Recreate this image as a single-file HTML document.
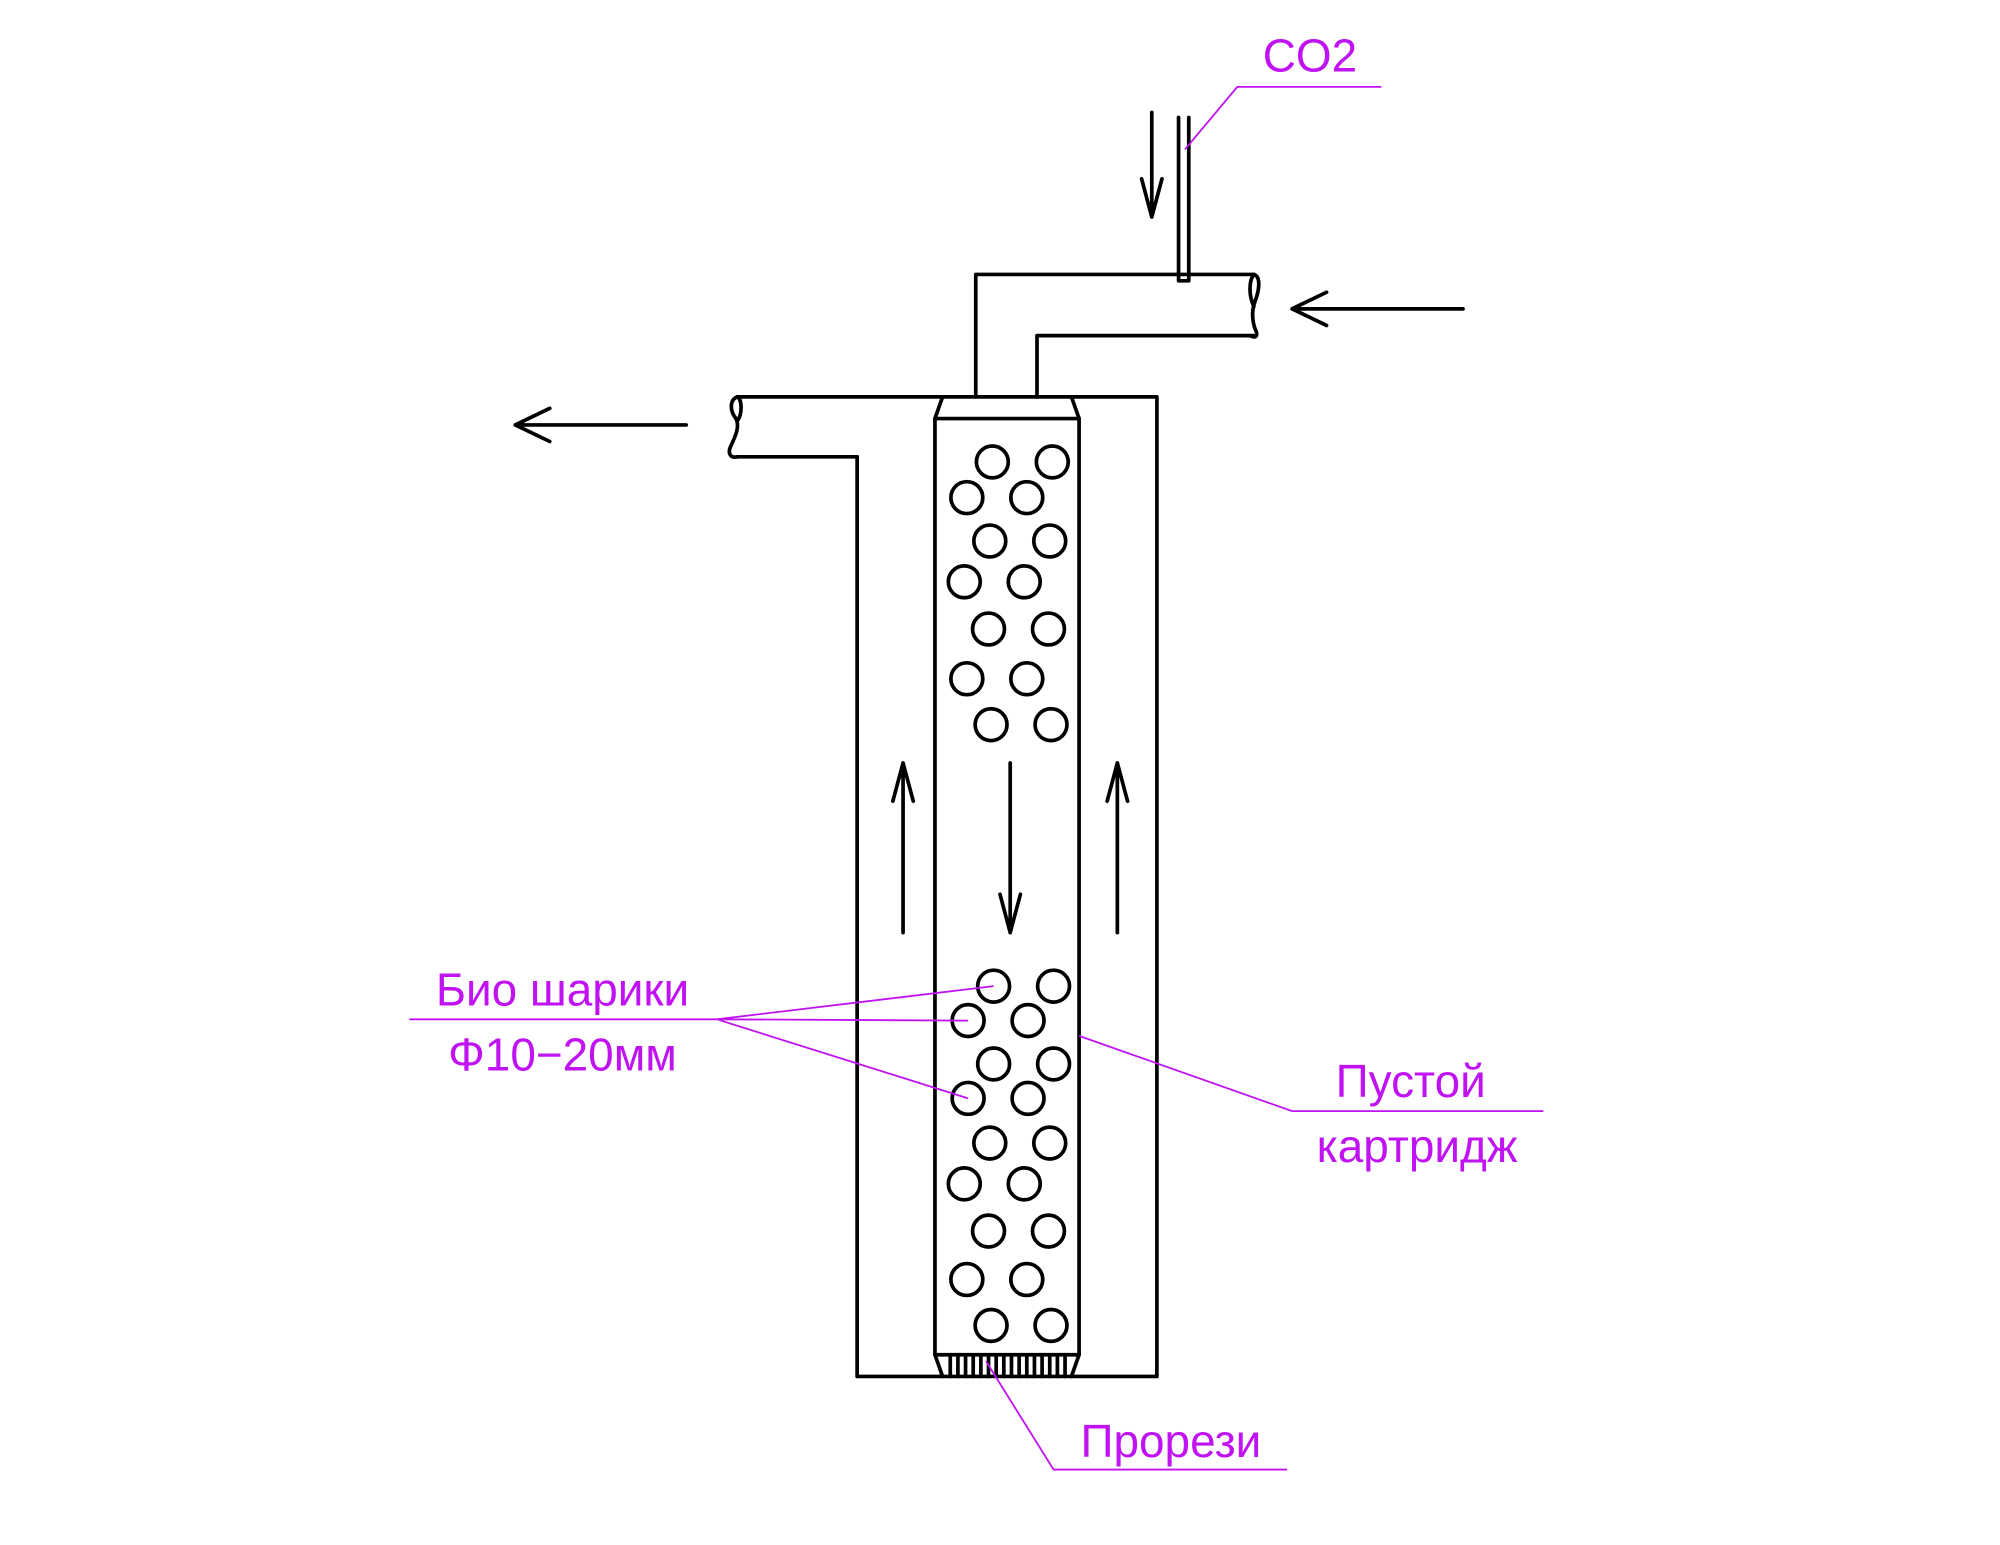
<!DOCTYPE html>
<html><head><meta charset="utf-8"><style>
html,body{margin:0;padding:0;background:#fff;}
svg{display:block;}
text{font-family:"Liberation Sans",sans-serif;fill:#c012f2;}
</style></head><body>
<svg width="2000" height="1545" viewBox="0 0 1568 1211" xmlns="http://www.w3.org/2000/svg">
<g fill="none" stroke="#000" stroke-width="2.9" stroke-linejoin="round" stroke-linecap="round">
<path d="M672,358 V1079 H907 V311 H578"/>
<path d="M578,358 H672"/>
<path d="M578,311 C572,313 572,322 577,328 C581,336 574,346 572,352 C571,357 574,359 578,358"/>
<path d="M578,311 C582,313 582,325 578,330"/>
<path d="M765,311 V215 H983"/>
<path d="M813,311 V263 H983"/>
<path d="M983,215 C989,217 987,228 984,236 C980,246 983,256 985,260 C986,264 984,265 980,263"/>
<path d="M983,215 C979,220 979,232 983,240"/>
<path d="M924,92 V220 H932 V92"/>
<path d="M903,88 V170 M895,140 L903,170 L911,140"/>
<path d="M1147,242 H1013 M1040,229 L1013,242 L1040,255"/>
<path d="M538,333 H404 M431,320 L404,333 L431,346"/>
<path d="M708,731 V598 M700,628 L708,598 L716,628"/>
<path d="M876,731 V598 M868,628 L876,598 L884,628"/>
<path d="M792,598 V731 M784,701 L792,731 L800,701"/>
<path d="M739,311 L733,328 V1062 L739,1079 M840,311 L846,328 V1062 L840,1079"/>
<path d="M733,328 H846 M733,1062 H846"/>
<path d="M745,1064V1079 M751,1064V1079 M757,1064V1079 M763,1064V1079 M769,1064V1079 M775,1064V1079 M781,1064V1079 M787,1064V1079 M793,1064V1079 M799,1064V1079 M805,1064V1079 M811,1064V1079 M817,1064V1079 M823,1064V1079 M829,1064V1079 M835,1064V1079"/>
<g>
<circle cx="778" cy="362" r="12.5"/><circle cx="825" cy="362" r="12.5"/>
<circle cx="758" cy="390" r="12.5"/><circle cx="805" cy="390" r="12.5"/>
<circle cx="776" cy="424" r="12.5"/><circle cx="823" cy="424" r="12.5"/>
<circle cx="756" cy="456" r="12.5"/><circle cx="803" cy="456" r="12.5"/>
<circle cx="775" cy="493" r="12.5"/><circle cx="822" cy="493" r="12.5"/>
<circle cx="758" cy="532" r="12.5"/><circle cx="805" cy="532" r="12.5"/>
<circle cx="777" cy="568" r="12.5"/><circle cx="824" cy="568" r="12.5"/>
<circle cx="779" cy="773" r="12.5"/><circle cx="826" cy="773" r="12.5"/>
<circle cx="759" cy="800" r="12.5"/><circle cx="806" cy="800" r="12.5"/>
<circle cx="779" cy="834" r="12.5"/><circle cx="826" cy="834" r="12.5"/>
<circle cx="759" cy="861" r="12.5"/><circle cx="806" cy="861" r="12.5"/>
<circle cx="776" cy="896" r="12.5"/><circle cx="823" cy="896" r="12.5"/>
<circle cx="756" cy="928" r="12.5"/><circle cx="803" cy="928" r="12.5"/>
<circle cx="775" cy="965" r="12.5"/><circle cx="822" cy="965" r="12.5"/>
<circle cx="758" cy="1003" r="12.5"/><circle cx="805" cy="1003" r="12.5"/>
<circle cx="777" cy="1039" r="12.5"/><circle cx="824" cy="1039" r="12.5"/>
</g>
</g>
<g fill="none" stroke="#c012f2" stroke-width="1.4">
<path d="M1083,68 H970 L929,117"/>
<path d="M321,799 H562 L779,773 M562,799 L759,800 M562,799 L759,861"/>
<path d="M1210,871 H1013 L846,812"/>
<path d="M1009,1152 H826 L773,1067"/>
</g>
<g font-size="36" text-anchor="middle">
<text x="1027" y="56">CO2</text>
<text x="441" y="788">Био шарики</text>
<text x="441" y="839">Φ10−20мм</text>
<text x="1106" y="860">Пустой</text>
<text x="1111" y="911">картридж</text>
<text x="918" y="1142">Прорези</text>
</g>
</svg>
</body></html>
